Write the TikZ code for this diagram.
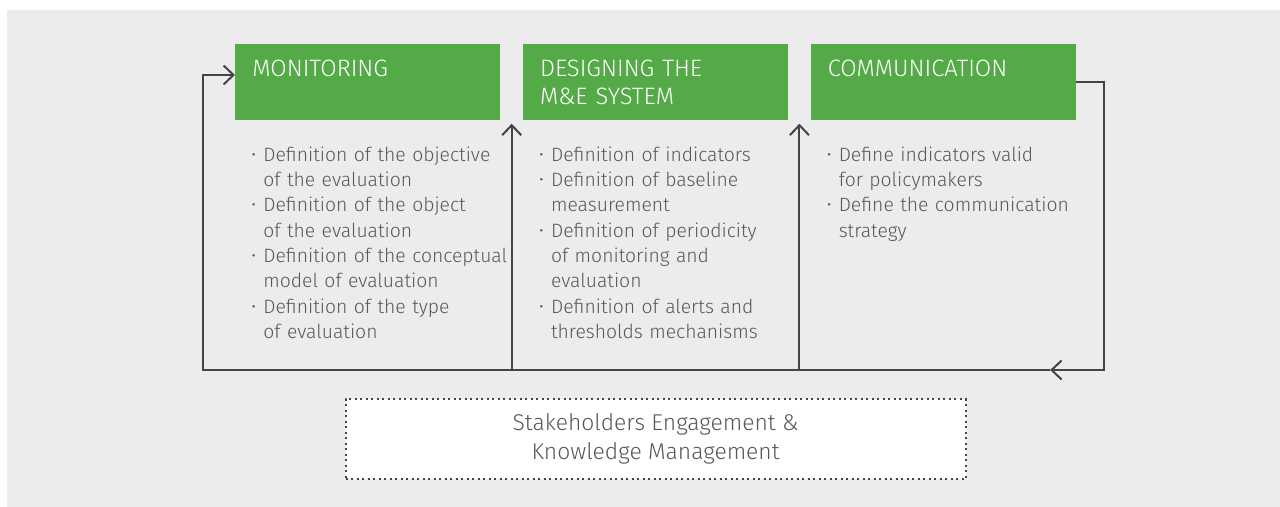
\documentclass[tikz,border=0pt]{standalone}
\usepackage{fontspec}
\setmainfont{Fira Sans}[UprightFont=* Light]
\usetikzlibrary{arrows.meta,positioning,calc}
\definecolor{PanelGrey}{RGB}{236,236,238}
\definecolor{StepGreen}{RGB}{85,170,72}
\definecolor{LineGrey}{RGB}{68,68,70}
\definecolor{TextGrey}{RGB}{88,88,90}

\newcommand{\bul}{\makebox[0.26cm][l]{\hspace{0.02cm}\raisebox{0.1ex}{\scalebox{0.85}{\textbullet}}}}
\newcommand{\listentry}[1]{\par\noindent\bul{\def\\{\par\noindent\hspace*{0.26cm}}#1}}

\begin{document}
\begin{tikzpicture}[node distance=0.44cm,
  every node/.style={font=\fontsize{11}{14.4}\selectfont, text=TextGrey},
  stepbox/.style={fill=StepGreen, minimum width=5.3cm, minimum height=1.52cm, inner xsep=0.34cm, inner ysep=0pt,
    text width=4.62cm, align=left, text=white, font=\fontsize{13.5}{16.4}\selectfont},
  itemlist/.style={text width=5.4cm, align=left, inner sep=0pt},
  flow/.style={draw=LineGrey, line width=0.04cm, -{Straight Barb[length=0.2cm, width=0.38cm]}}]
\useasboundingbox (0,0) rectangle (25.6,-10.14);
\fill[PanelGrey] (0.14,-0.2) rectangle (25.6,-10.14);

% steps
\node[stepbox, anchor=north west] (mon) at (4.7,-0.88) {MONITORING\\\mbox{}};
\node[stepbox, right=of mon] (des) {DESIGNING THE\\M\&E SYSTEM};
\node[stepbox, right=of des] (com) {COMMUNICATION\\\mbox{}};

% lists
\node[itemlist, below right=0.3cm and 0.3cm of mon.south west] (monlist) {%
  \listentry{Definition of the objective\\of the evaluation}
  \listentry{Definition of the object\\of the evaluation}
  \listentry{Definition of the conceptual\\model of evaluation}
  \listentry{Definition of the type\\of evaluation}};
\node[itemlist, below right=0.3cm and 0.3cm of des.south west] (deslist) {%
  \listentry{Definition of indicators}
  \listentry{Definition of baseline\\measurement}
  \listentry{Definition of periodicity\\of monitoring and\\evaluation}
  \listentry{Definition of alerts and\\thresholds mechanisms}};
\node[itemlist, below right=0.3cm and 0.3cm of com.south west] (comlist) {%
  \listentry{Define indicators valid\\for policymakers}
  \listentry{Define the communication\\strategy}};

% loop
\coordinate (bl) at ($(mon.north west)+(-0.64,-6.52)$);
\coordinate (br) at ($(com.north east)+(0.56,-6.52)$);
\coordinate (monin) at ($(mon.north west)+(0,-0.62)$);
\coordinate (retip) at ($(br)+(-1.08,0)$);
\coordinate (destip) at ($(mon.south east)!0.5!(des.south west)+(0,-0.06)$);
\coordinate (comtip) at ($(des.south east)!0.5!(com.south west)+(0,-0.06)$);
\coordinate (kmbase) at (des |- bl);

\draw[flow] (com.east) -| (br) -- (retip);
\draw[flow] (retip) -- (bl) |- (monin);
\draw[flow] (destip |- bl) -- (destip);
\draw[flow] (comtip |- bl) -- (comtip);

% engagement
\node[draw=LineGrey, fill=white, line width=0.04cm, dash pattern=on 0.04cm off 0.07cm,
  minimum width=12.4cm, minimum height=1.6cm, align=center, font=\fontsize{13}{16.4}\selectfont,
  below=0.56cm of kmbase] (km) {Stakeholders Engagement \&\\Knowledge Management};
\end{tikzpicture}
\end{document}
